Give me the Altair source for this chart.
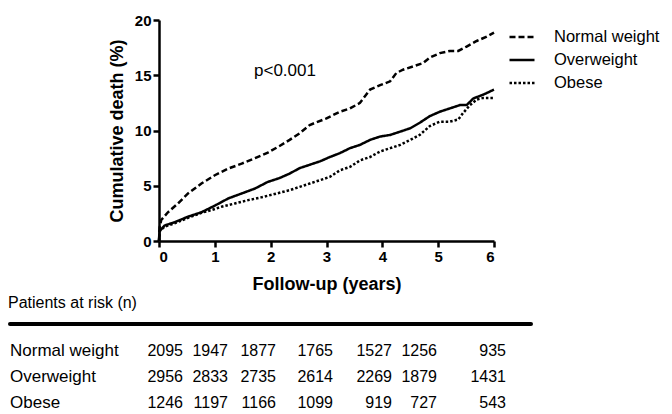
import altair as alt
import pandas as pd

groups = ["Normal weight", "Overweight", "Obese"]

nw_t = [0, 0.01, 0.04, 0.16, 0.34, 0.52, 0.76, 1.0, 1.24, 1.48, 1.72, 1.95, 2.16, 2.34, 2.52, 2.70, 3.0, 3.24, 3.42, 3.60, 3.78, 3.96, 4.14, 4.25, 4.37, 4.55, 4.73, 4.85, 5.03, 5.21, 5.36, 5.51, 5.69, 5.87, 6.0]
nw_v = [0, 1.2, 1.9, 2.6, 3.4, 4.3, 5.2, 5.95, 6.55, 7.0, 7.5, 8.0, 8.6, 9.15, 9.75, 10.5, 11.1, 11.7, 12.0, 12.5, 13.7, 14.1, 14.45, 15.2, 15.5, 15.8, 16.1, 16.6, 17.0, 17.2, 17.2, 17.6, 18.1, 18.5, 18.85]

ow_t = [0, 0.01, 0.1, 0.28, 0.52, 0.76, 1.0, 1.24, 1.48, 1.72, 1.95, 2.16, 2.34, 2.52, 2.70, 2.88, 3.06, 3.24, 3.42, 3.60, 3.78, 3.96, 4.14, 4.32, 4.50, 4.67, 4.85, 5.03, 5.21, 5.39, 5.51, 5.63, 5.81, 6.0]
ow_v = [0, 0.9, 1.4, 1.7, 2.2, 2.6, 3.2, 3.85, 4.3, 4.75, 5.35, 5.7, 6.1, 6.6, 6.9, 7.2, 7.6, 7.95, 8.4, 8.7, 9.15, 9.45, 9.6, 9.9, 10.2, 10.7, 11.3, 11.7, 12.0, 12.3, 12.3, 12.9, 13.25, 13.7]

ob_t = [0, 0.01, 0.1, 0.28, 0.52, 0.76, 0.94, 1.12, 1.36, 1.60, 1.83, 2.07, 2.34, 2.52, 2.70, 2.88, 3.06, 3.24, 3.42, 3.60, 3.78, 3.96, 4.14, 4.32, 4.50, 4.67, 4.85, 5.03, 5.21, 5.36, 5.45, 5.57, 5.69, 5.81, 6.0]
ob_v = [0, 0.9, 1.3, 1.6, 2.1, 2.55, 2.8, 3.1, 3.4, 3.7, 3.95, 4.25, 4.6, 4.9, 5.2, 5.5, 5.8, 6.4, 6.7, 7.3, 7.6, 8.1, 8.4, 8.7, 9.15, 9.6, 10.4, 10.8, 10.8, 11.0, 11.6, 12.3, 12.8, 12.95, 12.95]

risk_times = [0, 1, 2, 3, 4, 5, 6]
risk_nw = [2095, 1947, 1877, 1765, 1527, 1256, 935]
risk_ow = [2956, 2833, 2735, 2614, 2269, 1879, 1431]
risk_ob = [1246, 1197, 1166, 1099, 919, 727, 543]

p_text = "p<0.001"
risk_title = "Patients at risk (n)"

rows = []
for g, ts, vs in zip(groups, [nw_t, ow_t, ob_t], [nw_v, ow_v, ob_v]):
    for t, v in zip(ts, vs):
        rows.append({"group": g, "t": t, "v": v})
curves = pd.DataFrame(rows)

trows = []
for g, ns in zip(groups, [risk_nw, risk_ow, risk_ob]):
    for t, n in zip(risk_times, ns):
        trows.append({"group": g, "t": t, "n": n})
table = pd.DataFrame(trows)
labels = pd.DataFrame({"group": groups})

FONT = "Liberation Sans"

lines = alt.Chart(curves).mark_line(color="black", strokeWidth=2.5).encode(
    x=alt.X("t:Q", scale=alt.Scale(domain=[0, 6], nice=False),
            axis=alt.Axis(values=[0, 1, 2, 3, 4, 5, 6], title="Follow-up (years)", format="d",
                          titlePadding=11)),
    y=alt.Y("v:Q", scale=alt.Scale(domain=[0, 20], nice=False),
            axis=alt.Axis(values=[0, 5, 10, 15, 20], title="Cumulative death (%)", titlePadding=8)),
    strokeDash=alt.StrokeDash("group:N",
        scale=alt.Scale(domain=groups, range=[[6, 3], [1, 0], [2.5, 2]]),
        legend=alt.Legend(title=None, orient="none", legendX=349, legendY=3,
                          symbolType="stroke", symbolStrokeWidth=2.5, symbolSize=625,
                          symbolStrokeColor="black", labelFontSize=16.5, labelFont=FONT,
                          labelColor="black", rowPadding=-3, labelOffset=18, padding=0,
                          labelLimit=200)),
    order="t:Q",
)

ptxt = alt.Chart(pd.DataFrame({"s": [p_text]})).mark_text(
    font=FONT, fontSize=17, align="center", baseline="middle", color="black"
).encode(x=alt.value(126), y=alt.value(51), text="s:N")

risk_lbl = alt.Chart(pd.DataFrame({"s": [risk_title]})).mark_text(
    font=FONT, fontSize=16, align="left", baseline="middle", color="black"
).encode(x=alt.value(-151), y=alt.value(283), text="s:N")

rule = alt.Chart(pd.DataFrame({"a": [0]})).mark_rule(
    color="black", strokeWidth=4, strokeCap="round"
).encode(x=alt.value(-149), x2=alt.value(372), y=alt.value(304))

row_scale = alt.Scale(domain=groups, range=[331, 383], padding=0)

nums = alt.Chart(table).mark_text(
    font=FONT, fontSize=16, align="right", baseline="middle", color="black"
).encode(
    x=alt.X("t:Q", scale=alt.Scale(domain=risk_times, range=[24, 69, 117, 174, 233, 278, 347]), axis=None),
    y=alt.Y("group:N", scale=row_scale, axis=None),
    text="n:Q",
)

row_lbls = alt.Chart(labels).mark_text(
    font=FONT, fontSize=17, align="left", baseline="middle", color="black"
).encode(
    x=alt.value(-149),
    y=alt.Y("group:N", scale=row_scale, axis=None),
    text="group:N",
)

chart = alt.layer(lines, ptxt, risk_lbl, rule, nums, row_lbls).resolve_scale(
    x="independent", y="independent"
).properties(
    width=335, height=221,
    autosize=alt.AutoSizeParams(type="none"),
    padding={"left": 151, "top": 12, "right": 170, "bottom": 173},
).configure_view(stroke=None).configure_axis(
    grid=False, domainColor="black", domainWidth=2.5, tickColor="black", tickWidth=2.5,
    tickSize=6, labelFont=FONT, labelFontSize=15, labelFontWeight="bold", labelColor="black",
    labelPadding=2, titleFont=FONT, titleFontSize=18, titleFontWeight="bold", titleColor="black",
)

chart.save("out.html", embed_options={"renderer": "svg", "actions": False})
